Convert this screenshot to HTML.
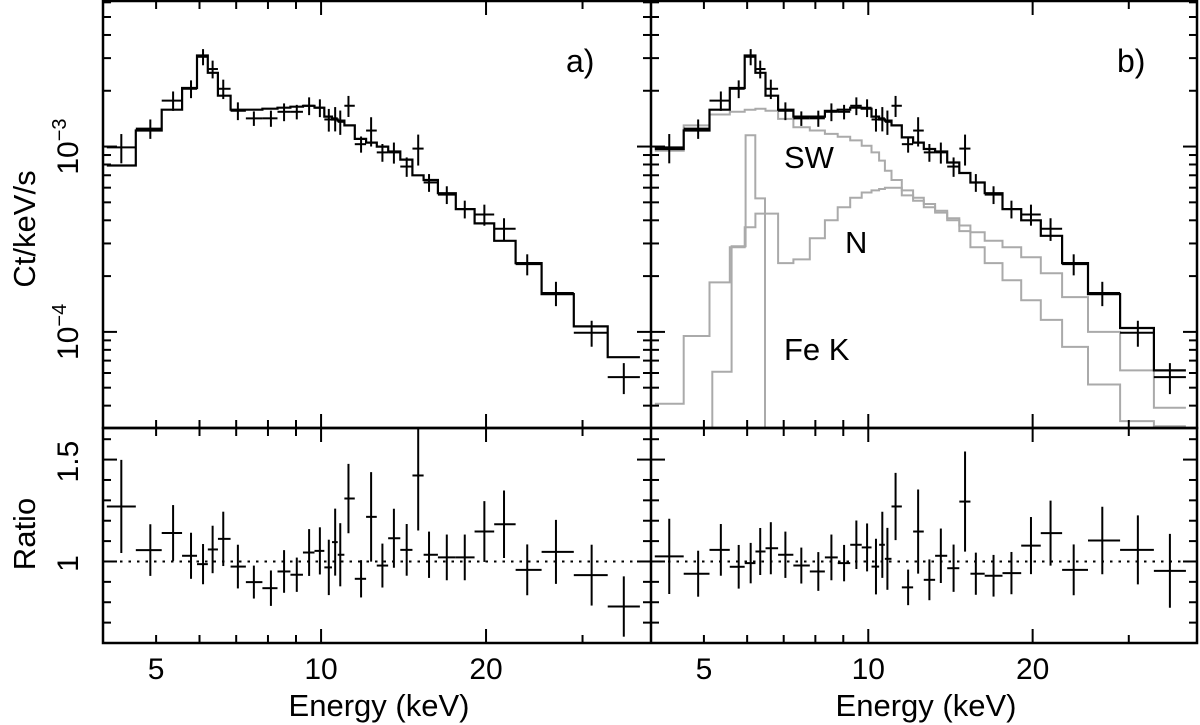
<!DOCTYPE html>
<html><head><meta charset="utf-8"><style>
html,body{margin:0;padding:0;background:#fff;}
svg{display:block;font-family:"Liberation Sans",Arial,sans-serif;}
</style></head><body>
<svg id="chart" width="1200" height="725" viewBox="0 0 1200 725" xmlns="http://www.w3.org/2000/svg">
<defs>
<clipPath id="clipA"><rect x="103" y="1" width="548" height="427"/></clipPath>
<clipPath id="clipB"><rect x="651" y="1" width="546" height="427"/></clipPath>
</defs>
<g id="layer"></g>
</svg>
<script>
// ---- data ----
const energies = [4.32,4.88,5.37,5.79,6.09,6.34,6.63,7.05,7.54,8.10,8.56,9.03,9.51,9.95,10.33,10.61,10.84,11.22,11.83,12.34,12.94,13.58,14.33,15.04,15.74,16.96,18.29,19.86,21.57,23.78,26.83,31.17,35.68];
const fluxData = [0.99,1.25,1.77,2.05,3.05,2.62,2.05,1.56,1.42,1.42,1.54,1.54,1.66,1.62,1.40,1.42,1.36,1.66,1.03,1.22,0.93,0.93,0.78,0.975,0.64,0.55,0.46,0.43,0.36,0.232,0.162,0.099,0.057];
const relErr = [0.18,0.12,0.12,0.11,0.10,0.11,0.12,0.11,0.09,0.10,0.11,0.09,0.11,0.11,0.14,0.15,0.15,0.13,0.10,0.18,0.11,0.13,0.12,0.19,0.11,0.11,0.11,0.13,0.14,0.13,0.15,0.16,0.19];
const modelA = [0.79,1.22,1.58,2.07,3.1,2.5,1.88,1.58,1.58,1.60,1.62,1.64,1.66,1.62,1.45,1.40,1.38,1.30,1.10,1.05,1.0,0.94,0.85,0.70,0.66,0.56,0.46,0.385,0.31,0.235,0.16,0.107,0.073];
const modelB = [0.97,1.22,1.58,2.07,3.1,2.5,1.88,1.58,1.45,1.45,1.56,1.58,1.62,1.60,1.45,1.40,1.38,1.30,1.12,1.05,0.97,0.94,0.82,0.72,0.64,0.56,0.46,0.40,0.33,0.235,0.16,0.105,0.062];
const swComp = [0.95,1.30,1.49,1.54,1.58,1.60,1.56,1.41,1.27,1.22,1.17,1.13,1.08,1.01,0.93,0.84,0.74,0.66,0.58,0.53,0.49,0.45,0.40,0.35,0.286,0.235,0.19,0.148,0.116,0.083,0.052,0.033,0.031];
const nComp = [0.041,0.095,0.185,0.286,0.367,0.435,0.435,0.235,0.246,0.32,0.40,0.47,0.53,0.565,0.58,0.59,0.60,0.60,0.545,0.51,0.47,0.44,0.41,0.375,0.345,0.31,0.286,0.253,0.207,0.154,0.10,0.062,0.039];
const feEdges = [5.18,5.62,5.96,6.21,6.47];
const feVals = [0.061,0.29,1.15,0.525];
const ratioA = [1.27,1.056,1.14,1.028,0.987,1.059,1.111,0.975,0.899,0.869,0.951,0.935,1.044,1.052,0.971,1.095,1.033,1.309,0.915,1.219,0.98,1.114,1.057,1.422,1.033,1.02,1.02,1.147,1.183,0.959,1.047,0.933,0.779];
const ratioB = [1.025,0.94,1.057,0.974,0.992,1.049,1.065,1.033,0.98,0.951,1.02,0.992,1.082,1.069,0.975,1.082,1.013,1.27,0.873,1.147,0.91,1.028,0.967,1.294,0.94,0.93,0.943,1.078,1.139,0.959,1.103,1.057,0.954];
const xTickLabels = [5,10,20];
const xMinorTicks = [4,5,6,7,8,9,30,40];
const xMajorTicks = [10,20];
const yDecades = [-3,-4];
const ratioTickLabels = ["1","1.5"];

// ---- geometry ----
const NS="http://www.w3.org/2000/svg";
const layer=document.getElementById('layer');
const E0=4.0,E1=40.0;
const panels=[{x0:103,x1:651},{x0:651,x1:1197}];
const TOP={y0:1,y1:428}, BOT={y0:428,y1:643};
const LMIN=Math.log10(3.03e-5), LMAX=Math.log10(6.1e-3);
const RMIN=0.60, RMAX=1.655;
function xs(p,e){const P=panels[p];return P.x0+(P.x1-P.x0)*Math.log(e/E0)/Math.log(E1/E0);}
function ys(f){return TOP.y1-(TOP.y1-TOP.y0)*(Math.log10(f*1e-3)-LMIN)/(LMAX-LMIN);}
function yr(r){return BOT.y1-(BOT.y1-BOT.y0)*(r-RMIN)/(RMAX-RMIN);}
function el(tag,attrs,parent){const e=document.createElementNS(NS,tag);for(const k in attrs)e.setAttribute(k,attrs[k]);(parent||layer).appendChild(e);return e;}
function line(x1,y1,x2,y2,sw,col,parent){return el('line',{x1,y1,x2,y2,stroke:col||'#000','stroke-width':sw||2},parent);}

// bin edges (log midpoints)
const edges=[];
for(let i=0;i<=energies.length;i++){
  if(i===0) edges.push(energies[0]*energies[0]/Math.sqrt(energies[0]*energies[1]));
  else if(i===energies.length){const n=energies.length-1;edges.push(energies[n]*energies[n]/Math.sqrt(energies[n]*energies[n-1]));}
  else edges.push(Math.sqrt(energies[i-1]*energies[i]));
}
function stepPath(p,ed,vals,yfn){
  let d='';
  for(let i=0;i<vals.length;i++){
    const xa=xs(p,ed[i]),xb=xs(p,ed[i+1]),y=yfn(vals[i]);
    d+=(i===0?'M':'L')+xa.toFixed(1)+','+y.toFixed(1)+'L'+xb.toFixed(1)+','+y.toFixed(1);
  }
  return d;
}

// ---- panel content ----
[0,1].forEach(p=>{
  const g=el('g',{'clip-path':`url(#clip${p?'B':'A'})`});
  
  
  if(p===1){
    const sw=el('path',{d:stepPath(1,edges,swComp,ys),fill:'none',stroke:'#aaa','stroke-width':2},g);
    
    
    const nn=el('path',{d:stepPath(1,edges,nComp,ys),fill:'none',stroke:'#aaa','stroke-width':2},g);
    
    
    let d='M'+xs(1,feEdges[0]).toFixed(1)+','+(TOP.y1+5)+stepPath(1,feEdges,feVals,ys).replace('M','L')+'L'+xs(1,feEdges[feEdges.length-1]).toFixed(1)+','+(TOP.y1+5);
    const fe=el('path',{d:d,fill:'none',stroke:'#aaa','stroke-width':2},g);
    
    
  }
  const model=p?modelB:modelA;
  const m=el('path',{d:stepPath(p,edges,model,ys),fill:'none',stroke:'#000','stroke-width':2.2},g);
  
  
  energies.forEach((e,i)=>{
    const xa=xs(p,edges[i]),xb=xs(p,edges[i+1]),xc=xs(p,e);
    const f=fluxData[i],r=relErr[i];
    const pt=el('g',{},g);
    
    
    line(xa,ys(f),xb,ys(f),2,'#000',pt);
    line(xc,ys(f*(1+r)),xc,ys(f*(1-r)),2,'#000',pt);
  });
  // ratio panel
  const rg=el('g',{});
  
  
  const dl=line(panels[p].x0,yr(1),panels[p].x1,yr(1),2,'#000',rg);
  dl.setAttribute('stroke-dasharray','2.5 6');
  
  
  const rat=p?ratioB:ratioA;
  energies.forEach((e,i)=>{
    const xa=xs(p,edges[i]),xb=xs(p,edges[i+1]),xc=xs(p,e);
    const r=rat[i],er=relErr[i];
    const pt=el('g',{},rg);
    
    
    line(xa,yr(r),xb,yr(r),2,'#000',pt);
    line(xc,Math.max(yr(r+r*er),BOT.y0),xc,Math.min(yr(r-r*er),BOT.y1),2,'#000',pt);
  });
});

// ---- frames & ticks ----
const ax=el('g',{});


[TOP,BOT].forEach(P=>{
  el('rect',{x:103,y:P.y0,width:1094,height:P.y1-P.y0,fill:'none',stroke:'#000','stroke-width':2.5},ax);
});
line(651,1,651,643,2.5,'#000',ax);
[0,1].forEach(p=>{
  const P=panels[p];
  // x ticks
  [TOP,BOT].forEach(Q=>{
    xMinorTicks.forEach(e=>{const x=xs(p,e);if(x<=P.x0+1||x>=P.x1-1)return;line(x,Q.y1,x,Q.y1-8,2,'#000',ax);line(x,Q.y0,x,Q.y0+8,2,'#000',ax);});
    xMajorTicks.forEach(e=>{const x=xs(p,e);line(x,Q.y1,x,Q.y1-14,2,'#000',ax);line(x,Q.y0,x,Q.y0+14,2,'#000',ax);});
  });
  // y ticks top
  [-5,-4,-3].forEach(dec=>{
    for(let k=1;k<10;k++){
      const f=k*Math.pow(10,dec)*1e3;const y=ys(f);
      if(y<TOP.y0+1||y>TOP.y1-1)continue;
      const L=k===1?14:8;
      line(P.x0,y,P.x0+L,y,2,'#000',ax);line(P.x1,y,P.x1-L,y,2,'#000',ax);
    }
  });
  for(let r=0.6;r<=1.66;r+=0.1){
    const y=yr(r);if(y<BOT.y0+1||y>BOT.y1-1)continue;
    const L=(Math.abs(r-1)<0.01||Math.abs(r-1.5)<0.01)?14:8;
    line(P.x0,y,P.x0+L,y,2,'#000',ax);line(P.x1,y,P.x1-L,y,2,'#000',ax);
  }
  // x tick labels
  xTickLabels.forEach(e=>{
    const t=el('text',{x:xs(p,e),y:679,'font-size':30,'text-anchor':'middle',fill:'#000'});
    t.textContent=String(e);
    
    
  });
  const xt=el('text',{x:(P.x0+P.x1)/2+2,y:716,'font-size':31,'text-anchor':'middle',fill:'#000'});
  xt.textContent='Energy (keV)';
  
  
});
// y labels (rotated)
function rtext(x,y,size,txt,name){
  const t=el('text',{x:0,y:0,'font-size':size,'text-anchor':'middle',fill:'#000',transform:`translate(${x},${y}) rotate(-90)`});
  t.innerHTML=txt;
  
  
  return t;
}
yDecades.forEach(dec=>{
  rtext(78,ys(Math.pow(10,dec)*1e3),30,'10<tspan font-size="20" dy="-12">−'+(-dec)+'</tspan>','y-tick-label');
});
ratioTickLabels.forEach(s=>{rtext(78,yr(parseFloat(s))+2,30,s,'ratio-tick-label');});
rtext(35,229,31,'Ct/keV/s','y-axis-title');
rtext(35,534,31,'Ratio','ratio-axis-title');
// annotations
function ann(x,y,size,txt,name){const t=el('text',{x,y,'font-size':size,fill:'#000'});t.textContent=txt;}
ann(566,72,32,'a)','panel-label-a');
ann(1117,72,32,'b)','panel-label-b');
ann(784,168,31,'SW','sw-label');
ann(845,253,31,'N','n-label');
ann(784,360,31,'Fe K','fe-k-label');
</script>
</body></html>
